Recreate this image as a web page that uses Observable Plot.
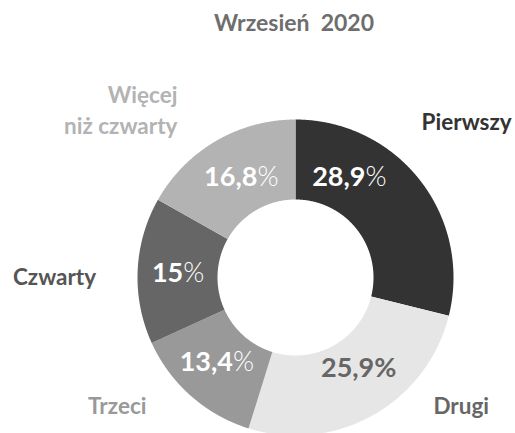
<!DOCTYPE html>
<html><head><meta charset="utf-8">
<script src="https://cdn.jsdelivr.net/npm/d3@7"></script>
<script src="https://cdn.jsdelivr.net/npm/@observablehq/plot@0.6"></script>
<style>
body{margin:0;background:#fff;font-family:Lato,sans-serif;overflow:hidden}
#title{height:44px;box-sizing:border-box;padding-top:11px;font-size:23px;line-height:1;font-weight:700;color:#6e6e6e;white-space:pre;width:588px;text-align:center}
</style></head><body>
<div id="title">Wrzesień  2020</div>
<div id="chart"></div>
<script>
// ---- data ----
const categories = ["Pierwszy", "Drugi", "Trzeci", "Czwarty", "Więcej\nniż czwarty"];
const values = [28.9, 25.9, 13.4, 15, 16.8];
const valueLabels = ["28,9", "25,9", "13,4", "15", "16,8"];

// ---- layout / style (not data) ----
const W = 515, H = 389, cx = 295, cy = 233, R = 158, R0 = 78;
const palette = ["#333333", "#e6e6e6", "#999999", "#666666", "#b3b3b3"];
const labelColors = ["#333333", "#666666", "#999999", "#555555", "#b3b3b3"];
const valueColors = ["#ffffff", "#666666", "#ffffff", "#ffffff", "#ffffff"];
const valuePolar = [[28.2, 114], [145.3, 111], [222.7, 116], [272, 117.5], [331.6, 114]];
const labelPolar = [[47.8, 231], [127.9, 210], [234.1, 220], [270, 241], [325.1, 206.4]];
const labelAnchor = ["middle", "middle", "middle", "middle", "end"];
const rad = Math.PI / 180;

const arcs = d3.pie().sort(null).value(d => d)(values);
const pts = [];
arcs.forEach((p, i) => {
  const n = Math.max(2, Math.ceil((p.endAngle - p.startAngle) / 0.005));
  for (let k = 0; k <= n; k++) {
    const a = p.startAngle + (p.endAngle - p.startAngle) * k / n;
    pts.push({cat: categories[i], x: R * Math.sin(a), y: R * Math.cos(a)});
  }
  for (let k = n; k >= 0; k--) {
    const a = p.startAngle + (p.endAngle - p.startAngle) * k / n;
    pts.push({cat: categories[i], x: R0 * Math.sin(a), y: R0 * Math.cos(a)});
  }
});

const valueData = values.map((v, i) => ({
  text: valueLabels[i] + "%",
  x: valuePolar[i][1] * Math.sin(valuePolar[i][0] * rad),
  y: valuePolar[i][1] * Math.cos(valuePolar[i][0] * rad),
  fill: valueColors[i], i
}));
const labelData = categories.map((c, i) => ({
  text: c,
  x: labelPolar[i][1] * Math.sin(labelPolar[i][0] * rad),
  y: labelPolar[i][1] * Math.cos(labelPolar[i][0] * rad),
  fill: labelColors[i], anchor: labelAnchor[i]
}));

const svg = Plot.plot({
  width: W, height: H,
  marginTop: 0, marginBottom: 0, marginLeft: 0, marginRight: 0,
  style: {fontFamily: "Lato, sans-serif", background: "#fff"},
  x: {domain: [-cx, W - cx], range: [0, W], axis: null},
  y: {domain: [-(H - cy), cy], range: [H, 0], axis: null},
  color: {domain: categories, range: palette},
  marks: [
    Plot.line(pts, {x: "x", y: "y", z: "cat", fill: "cat", stroke: "none", curve: "linear"}),
    Plot.text(valueData, {x: "x", y: "y", text: "text", fill: d => d.fill, fontSize: 27, fontWeight: 700}),
    Plot.text(labelData.filter(d => d.anchor === "middle"), {x: "x", y: "y", text: "text", fill: d => d.fill, fontSize: 22.5, fontWeight: 700}),
    Plot.text(labelData.filter(d => d.anchor === "end"), {x: "x", y: "y", text: "text", fill: d => d.fill, fontSize: 22.5, fontWeight: 700, textAnchor: "end", lineHeight: 1.4})
  ]
});

// split value labels: bold number + lighter percent sign
const valueTexts = new Set(valueData.map(d => d.text));
d3.select(svg).selectAll("text").each(function() {
  const t = this.textContent;
  if (!valueTexts.has(t)) return;
  const d = valueData.find(v => v.text === t);
  const white = d.fill === "#ffffff";
  const num = t.replace("%", "");
  this.textContent = "";
  d3.select(this).append("tspan").text(num);
  d3.select(this).append("tspan").attr("font-weight", white ? 300 : 700).text("%");
});

document.getElementById("chart").appendChild(svg);
</script>
</body></html>
